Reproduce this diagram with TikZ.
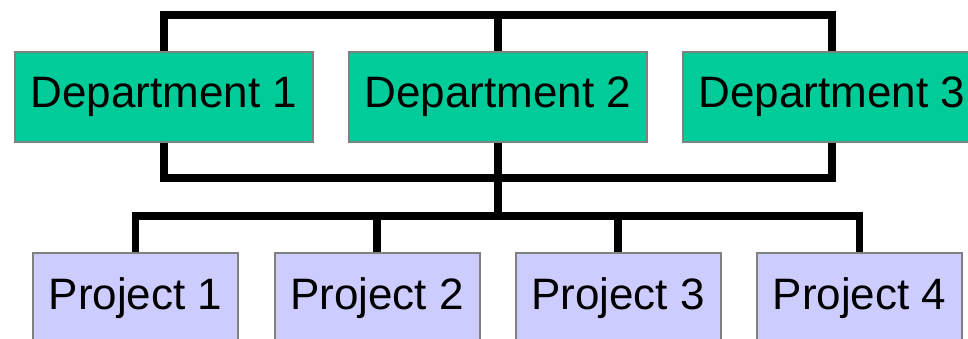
\documentclass[tikz,border=0pt]{standalone}
\usepackage{fontspec}
\setmainfont{Liberation Sans}
\usepackage{xcolor}
\usepackage{tikz}

\definecolor{deptgreen}{RGB}{0,204,153}
\definecolor{projblue}{RGB}{204,204,255}

\tikzset{
  deptbox/.style={draw=gray, line width=2pt, fill=deptgreen, minimum width=298pt, minimum height=90pt, inner sep=0pt, font=\fontsize{44}{50}\selectfont},
  projbox/.style={draw=gray, line width=2pt, fill=projblue, minimum width=205pt, minimum height=90pt, inner sep=0pt, font=\fontsize{44}{50}\selectfont},
  bus/.style={line width=7.5pt, line join=miter}
}

\begin{document}
\begin{tikzpicture}[x=1pt, y=-1pt]
  \useasboundingbox (0,0) rectangle (968,339);

  \node[deptbox] (dep1) at (164,97) {Department 1};
  \node[deptbox] (dep2) at (498,97) {Department 2};
  \node[deptbox] (dep3) at (832,97) {Department 3};

  \node[projbox] (proj1) at (135.5,298) {Project 1};
  \node[projbox] (proj2) at (377,298) {Project 2};
  \node[projbox] (proj3) at (618,298) {Project 3};
  \node[projbox] (proj4) at (859.5,298) {Project 4};

  % bus lines between the rows
  \coordinate (topbus) at (498,15);
  \coordinate (midbus) at (498,178);
  \coordinate (projbus) at (498,216);

  \draw[bus] (dep1.north) |- (topbus) -| (dep3.north);
  \draw[bus] (dep2.north) -- (topbus);
  \draw[bus] (dep1.south) |- (midbus) -| (dep3.south);
  \draw[bus] (dep2.south) -- (projbus);

  \draw[bus] (proj1.north) |- (projbus) -| (proj4.north);
  \draw[bus] (proj2.north) |- (projbus);
  \draw[bus] (proj3.north) |- (projbus);
\end{tikzpicture}
\end{document}
